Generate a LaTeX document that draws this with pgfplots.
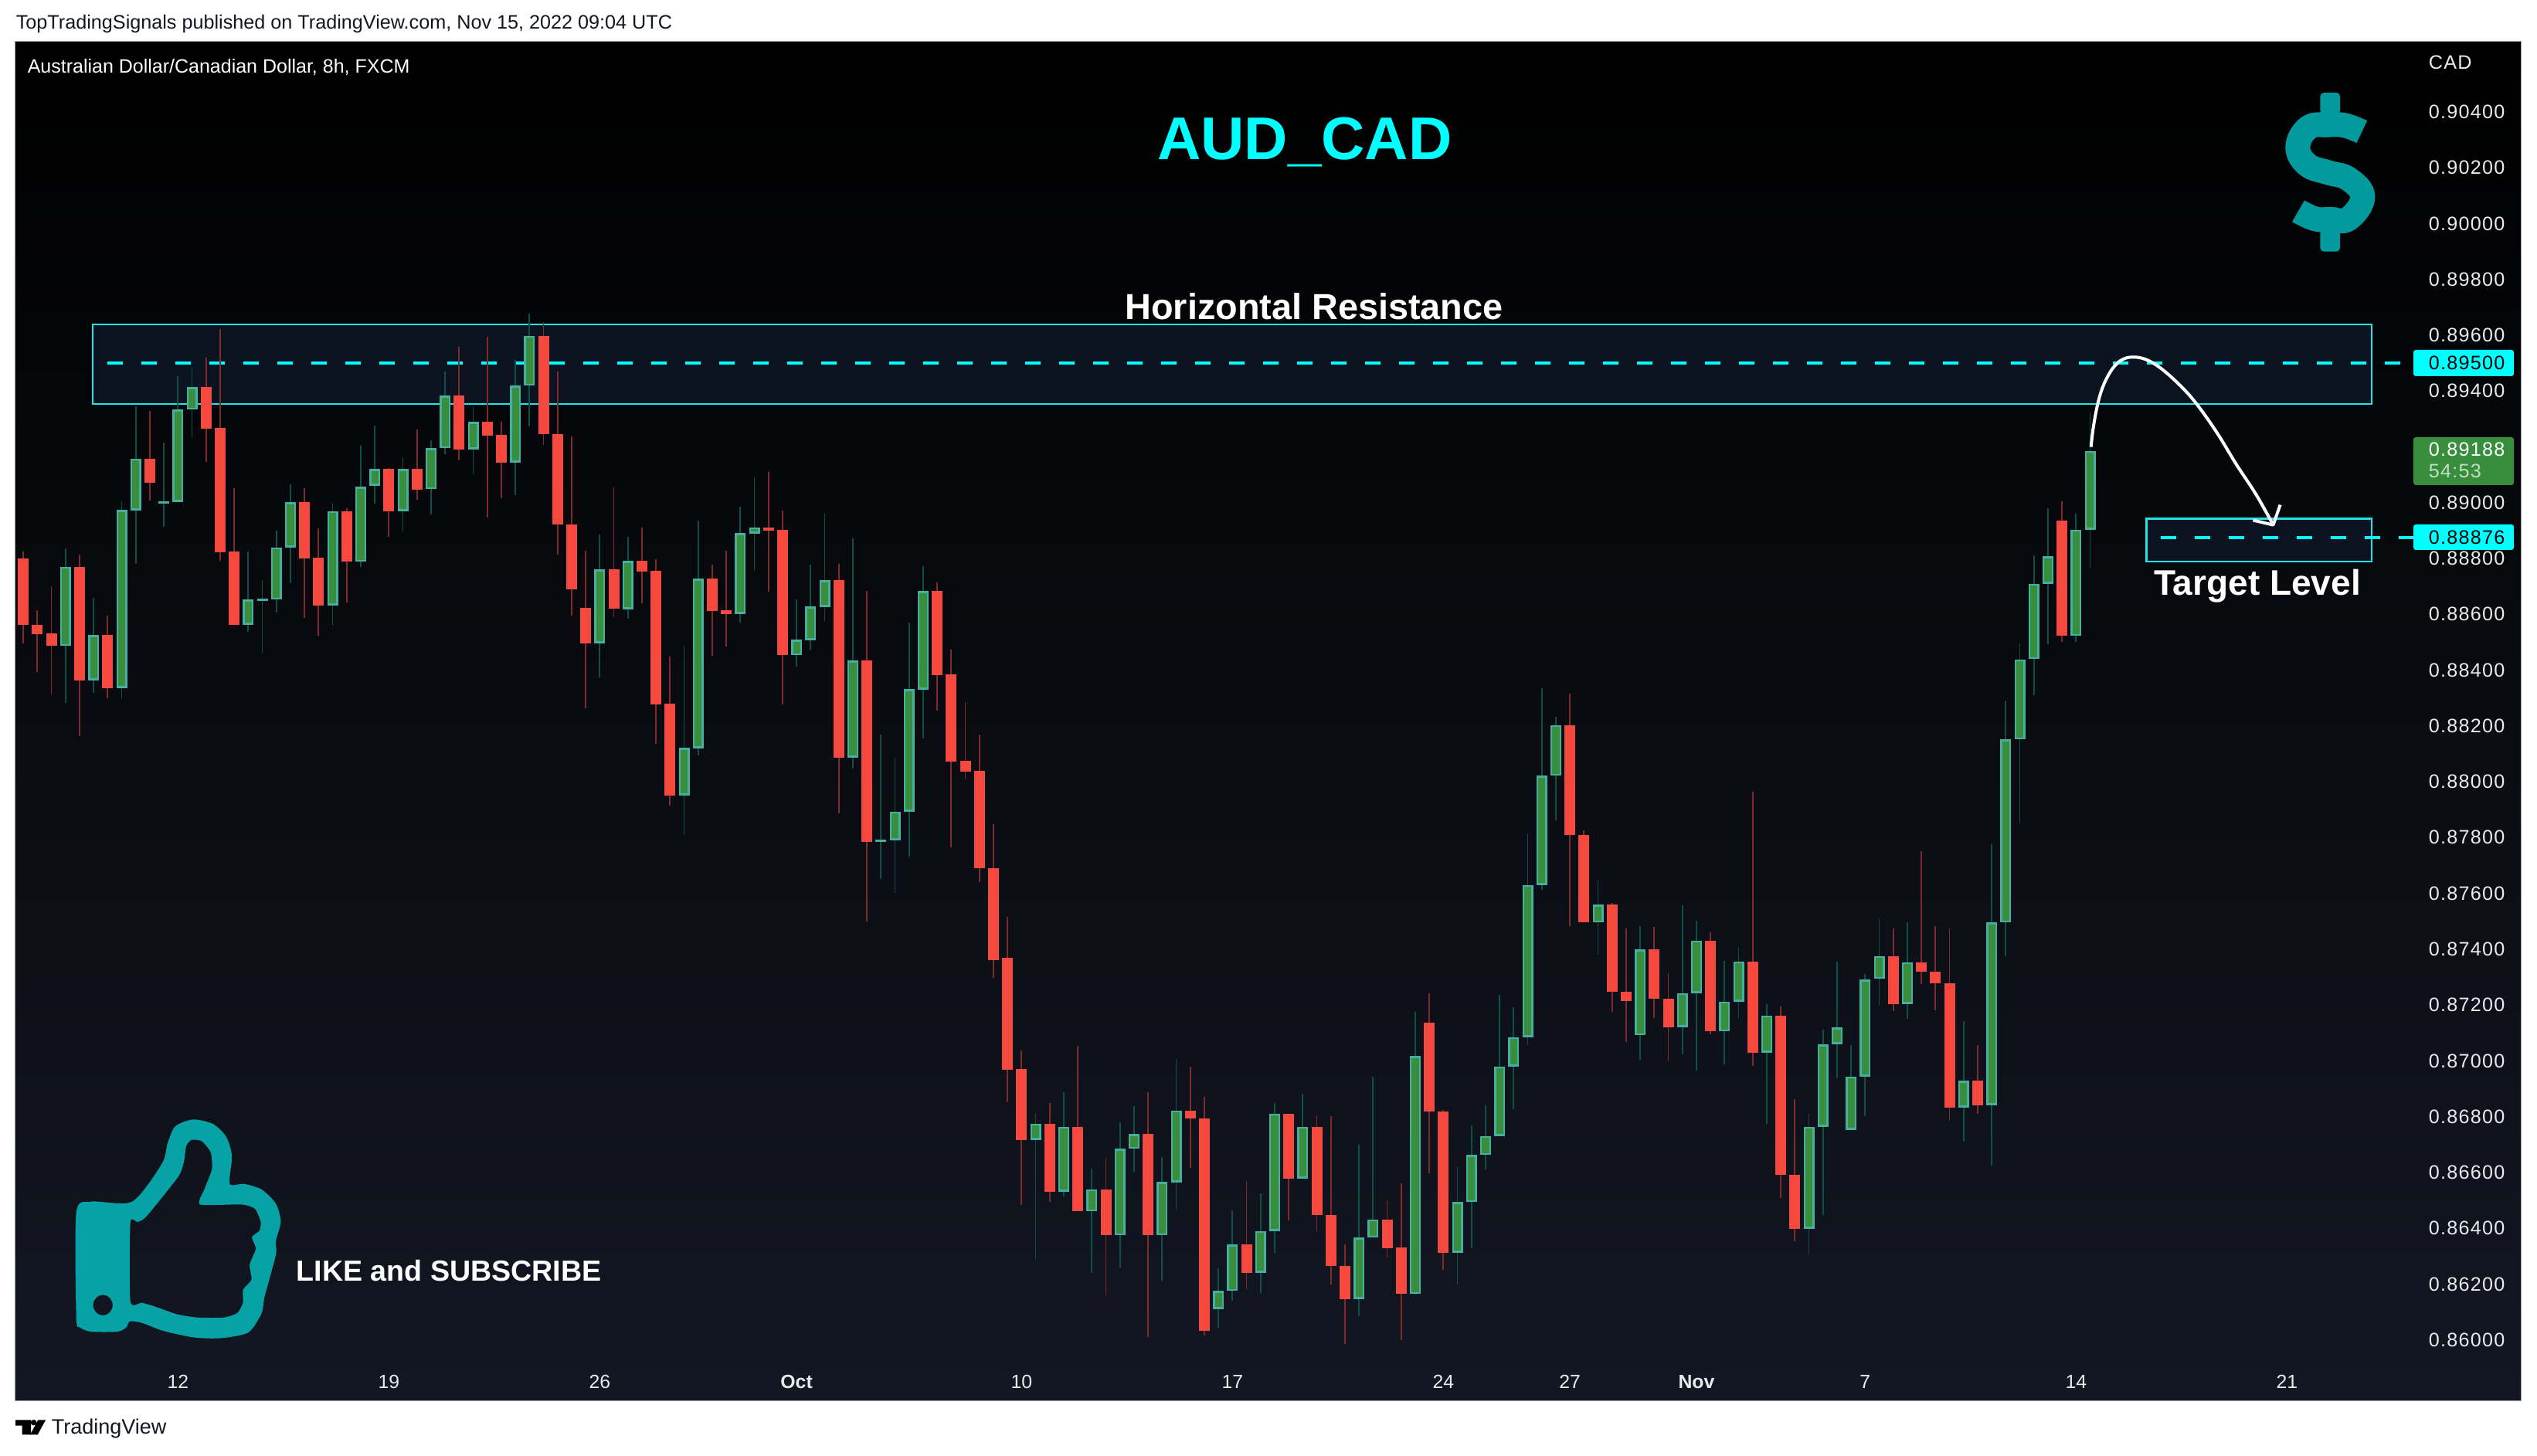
\documentclass[border=0pt]{standalone}
\usepackage{pgfplots}
\usepackage{pgfplotstable}
\usepackage{fontspec}
\setmainfont{Liberation Sans}
\pgfplotsset{compat=1.18}

\definecolor{upfill}{HTML}{388E3C}
\definecolor{upedge}{HTML}{45AFA2}
\definecolor{upwick}{HTML}{0F4F49}
\definecolor{downfill}{HTML}{F7483D}
\definecolor{downedge}{HTML}{F14A42}
\definecolor{downwick}{HTML}{7F2B2D}
\definecolor{panelbot}{HTML}{131722}
\definecolor{zonefill}{HTML}{0C1320}
\definecolor{zoneline}{HTML}{22E6E6}
\definecolor{tagcyan}{HTML}{00FFFF}
\definecolor{ticktext}{HTML}{E8EAEE}
\definecolor{thumb}{HTML}{07A2A6}
\definecolor{dollar}{HTML}{029A9C}
\definecolor{frameline}{HTML}{9AA0AC}
\definecolor{headtext}{HTML}{131722}

% columns: bar number, wick high, body top, body bottom, wick low
\pgfplotstableread{
i high top bottom low
3 0.88836 0.88770 0.88487 0.88283
5 0.88659 0.88526 0.88363 0.88318
7 0.89005 0.88974 0.88335 0.88299
8 0.89346 0.89158 0.88972 0.88781
10 0.89215 0.89005 0.88996 0.88913
11 0.89453 0.89334 0.89003 0.89001
12 0.89487 0.89414 0.89333 0.89235
16 0.88825 0.88653 0.88563 0.88537
17 0.88723 0.88656 0.88649 0.88462
18 0.88900 0.88840 0.88652 0.88607
19 0.89065 0.89001 0.88840 0.88712
22 0.89000 0.88970 0.88632 0.88560
24 0.89205 0.89057 0.88788 0.88770
25 0.89277 0.89120 0.89061 0.88997
27 0.89163 0.89120 0.88970 0.88897
29 0.89223 0.89195 0.89048 0.88958
30 0.89470 0.89383 0.89195 0.89174
32 0.89346 0.89289 0.89191 0.89102
35 0.89511 0.89419 0.89144 0.89027
36 0.89677 0.89598 0.89419 0.89273
41 0.88886 0.88760 0.88496 0.88374
43 0.88877 0.88791 0.88618 0.88585
47 0.88488 0.88121 0.87951 0.87809
48 0.88935 0.88728 0.88120 0.88094
51 0.88986 0.88891 0.88602 0.88570
52 0.89091 0.88912 0.88890 0.88756
55 0.88653 0.88509 0.88454 0.88412
56 0.88778 0.88628 0.88507 0.88470
57 0.88961 0.88722 0.88627 0.88575
59 0.88872 0.88434 0.88087 0.88047
61 0.88169 0.87792 0.87783 0.87652
62 0.88086 0.87893 0.87791 0.87601
63 0.88570 0.88331 0.87893 0.87731
64 0.88772 0.88683 0.88330 0.88155
72 0.86812 0.86775 0.86717 0.86290
74 0.86887 0.86764 0.86531 0.86513
76 0.86614 0.86540 0.86460 0.86240
78 0.86779 0.86684 0.86374 0.86257
79 0.86838 0.86737 0.86684 0.86602
81 0.86655 0.86566 0.86374 0.86210
82 0.87007 0.86822 0.86564 0.86469
85 0.86257 0.86175 0.86111 0.86043
86 0.86464 0.86341 0.86175 0.86140
88 0.86525 0.86390 0.86241 0.86169
89 0.86849 0.86811 0.86390 0.86311
91 0.86882 0.86764 0.86578 0.86578
95 0.86699 0.86366 0.86147 0.86085
96 0.86943 0.86432 0.86366 0.86366
99 0.87176 0.87017 0.86164 0.86162
102 0.86619 0.86493 0.86313 0.86198
103 0.86769 0.86662 0.86493 0.86328
104 0.86840 0.86731 0.86662 0.86611
105 0.87237 0.86980 0.86731 0.86729
106 0.87191 0.87085 0.86980 0.86826
107 0.87814 0.87630 0.87085 0.87056
108 0.88335 0.88022 0.87630 0.87612
109 0.88232 0.88203 0.88022 0.87862
112 0.87646 0.87560 0.87495 0.87380
115 0.87482 0.87399 0.87092 0.87005
118 0.87557 0.87242 0.87121 0.87023
119 0.87501 0.87431 0.87242 0.86964
121 0.87358 0.87212 0.87105 0.86986
122 0.87407 0.87356 0.87212 0.87154
124 0.87202 0.87162 0.87029 0.86773
127 0.86810 0.86764 0.86398 0.86306
128 0.87113 0.87059 0.86764 0.86446
129 0.87355 0.87120 0.87059 0.86938
130 0.87056 0.86943 0.86752 0.86752
131 0.87310 0.87291 0.86943 0.86803
132 0.87507 0.87375 0.87293 0.87197
134 0.87496 0.87353 0.87204 0.87150
138 0.87142 0.86929 0.86833 0.86710
140 0.87777 0.87495 0.86841 0.86624
141 0.88291 0.88151 0.87495 0.87374
142 0.88495 0.88438 0.88152 0.87851
143 0.88811 0.88710 0.88440 0.88309
144 0.88979 0.88807 0.88710 0.88494
146 0.88961 0.88903 0.88522 0.88501
147 0.89324 0.89186 0.88903 0.88765
}\upbars

\pgfplotstableread{
i high top bottom low
0 0.88825 0.88800 0.88561 0.88495
1 0.88614 0.88562 0.88529 0.88393
2 0.88700 0.88531 0.88487 0.88312
4 0.88814 0.88770 0.88363 0.88163
6 0.88595 0.88526 0.88335 0.88299
9 0.89329 0.89158 0.89071 0.89007
13 0.89520 0.89414 0.89265 0.89147
14 0.89623 0.89267 0.88822 0.88792
15 0.89052 0.88824 0.88562 0.88562
20 0.89052 0.89001 0.88800 0.88587
21 0.88908 0.88802 0.88632 0.88524
23 0.88980 0.88970 0.88788 0.88642
26 0.89124 0.89120 0.88969 0.88877
28 0.89263 0.89120 0.89047 0.89011
31 0.89558 0.89383 0.89191 0.89152
33 0.89594 0.89289 0.89240 0.88947
34 0.89290 0.89242 0.89144 0.89016
37 0.89646 0.89598 0.89247 0.89206
38 0.89470 0.89247 0.88923 0.88814
39 0.89237 0.88923 0.88690 0.88595
40 0.88828 0.88624 0.88496 0.88263
42 0.89055 0.88760 0.88619 0.88590
44 0.88911 0.88791 0.88754 0.88640
45 0.88798 0.88755 0.88278 0.88136
46 0.88448 0.88279 0.87951 0.87914
49 0.88778 0.88728 0.88613 0.88452
50 0.88828 0.88614 0.88602 0.88485
53 0.89111 0.88912 0.88899 0.88682
54 0.88972 0.88903 0.88454 0.88278
58 0.88781 0.88722 0.88087 0.87887
60 0.88684 0.88434 0.87783 0.87499
65 0.88714 0.88683 0.88383 0.88255
66 0.88474 0.88384 0.88073 0.87764
67 0.88285 0.88074 0.88037 0.88008
68 0.88169 0.88038 0.87689 0.87641
69 0.87848 0.87689 0.87360 0.87298
70 0.87516 0.87370 0.86968 0.86852
71 0.87037 0.86970 0.86717 0.86484
73 0.86849 0.86775 0.86531 0.86494
75 0.87054 0.86764 0.86460 0.86460
77 0.86652 0.86540 0.86374 0.86160
80 0.86887 0.86737 0.86374 0.86010
83 0.86979 0.86822 0.86792 0.86615
84 0.86871 0.86792 0.86033 0.86016
87 0.86569 0.86341 0.86241 0.86182
90 0.86811 0.86811 0.86578 0.86428
92 0.86804 0.86764 0.86446 0.86389
93 0.86802 0.86446 0.86266 0.86198
94 0.86342 0.86266 0.86147 0.85985
97 0.86499 0.86432 0.86329 0.86295
98 0.86560 0.86330 0.86164 0.85999
100 0.87242 0.87137 0.86817 0.86597
101 0.86824 0.86817 0.86313 0.86250
110 0.88315 0.88203 0.87808 0.87482
111 0.87825 0.87808 0.87495 0.87495
113 0.87566 0.87560 0.87248 0.87175
114 0.87474 0.87248 0.87213 0.87067
116 0.87479 0.87399 0.87223 0.87154
117 0.87315 0.87223 0.87121 0.87000
120 0.87460 0.87431 0.87105 0.87094
123 0.87963 0.87356 0.87029 0.86981
125 0.87194 0.87162 0.86592 0.86508
126 0.86862 0.86592 0.86398 0.86352
133 0.87475 0.87375 0.87204 0.87177
135 0.87750 0.87353 0.87318 0.87274
136 0.87482 0.87320 0.87277 0.87180
137 0.87475 0.87278 0.86833 0.86784
139 0.87056 0.86929 0.86841 0.86811
145 0.89005 0.88936 0.88522 0.88501
}\downbars

% #1 table, #2 wick, #3 body edge, #4 body fill
\newcommand\candles[4]{%
  \addplot[draw=none, mark=none, forget plot,
    error bars/.cd, y dir=minus, y explicit, error mark=none,
    error bar style={draw=#2, line width=.45pt}]
    table[x=i, y=high, y error minus expr=\thisrow{high}-\thisrow{low}] {#1};
  \addplot[draw=none, mark=none, forget plot,
    error bars/.cd, y dir=minus, y explicit, error mark=none,
    error bar style={draw=#3, line width=3.5pt}]
    table[x=i, y=top, y error minus expr=\thisrow{top}-\thisrow{bottom}] {#1};
  \addplot[draw=none, mark=none, forget plot,
    error bars/.cd, y dir=minus, y explicit, error mark=none,
    error bar style={draw=#4, line width=2.3pt}]
    table[x=i, y expr=\thisrow{top}-0.00007,
      y error minus expr={max(\thisrow{top}-\thisrow{bottom}-0.00014,0)}] {#1};
}
\newcommand\fs[1]{\fontsize{#1}{#1}\selectfont}

\begin{document}
\begin{tikzpicture}
\path[use as bounding box, fill=white] (-5pt,-17.75pt) rectangle (816pt,453.25pt);
\begin{axis}[
  scale only axis,
  width=810.75pt, height=439.75pt,
  xmin=-0.555, xmax=177.63,
  ymin=0.85783, ymax=0.906519,
  axis background/.style={top color=black, bottom color=panelbot},
  axis line style={frameline, line width=.25pt},
  major tick length=0pt,
  tick style={draw=none},
  xtick={11,26,41,55,71,86,101,110,119,131,146,161},
  xticklabels={12,19,26,\textbf{Oct},10,17,24,27,\textbf{Nov},7,14,21},
  x tick label style={anchor=center, inner sep=0pt, yshift=6pt, text=ticktext, font=\fs{6.2}},
  ytick={0.86,0.862,0.864,0.866,0.868,0.87,0.872,0.874,0.876,0.878,0.88,0.882,0.884,0.886,0.888,0.89,0.894,0.896,0.898,0.9,0.902,0.904},
  yticklabel pos=right,
  y tick label style={anchor=west, inner sep=0pt, xshift=-30pt, text=ticktext,
    font=\addfontfeatures{LetterSpace=5}\fs{6.3},
    /pgf/number format/.cd, fixed, fixed zerofill, precision=5, assume math mode=true},
  clip=true,
]
% zones and levels
\addplot[fill=zonefill, draw=zoneline, line width=.6pt, forget plot]
  coordinates {(4.94,0.89639)(167.03,0.89639)(167.03,0.89354)(4.94,0.89354)} -- cycle;
\addplot[fill=zonefill, draw=zoneline, line width=.6pt, forget plot]
  coordinates {(151.0,0.889428)(167.03,0.889428)(167.03,0.887889)(151.0,0.887889)} -- cycle;
\addplot[tagcyan, line width=1pt, dash pattern=on 5.1pt off 5.9pt, forget plot]
  coordinates {(5.98,0.895)(169.05,0.895)};
\addplot[tagcyan, line width=1pt, dash pattern=on 5.1pt off 5.9pt, forget plot]
  coordinates {(152.0,0.88876)(170.0,0.88876)};
% candles
\candles{\upbars}{upwick}{upedge}{upfill}
\candles{\downbars}{downwick}{downedge}{downfill}
% hand drawn arrow
\addplot[white, line width=1pt, smooth, tension=.6, forget plot] coordinates {
  (147.06,0.891998)(147.25,0.892775)(147.58,0.893622)(147.99,0.894258)
  (148.62,0.894823)(149.31,0.895133)(150.13,0.895218)(151.09,0.895105)
  (152.19,0.894752)(153.57,0.894116)(154.66,0.893481)(156.04,0.892492)
  (157.41,0.891362)(158.79,0.890303)(160.02,0.889202)};
\addplot[white, line width=1pt, line join=round, forget plot] coordinates {
  (158.59,0.889371)(160.02,0.889202)(160.52,0.889922)};
\end{axis}

% everything below is placed in page pixels of the reference
\begin{scope}[shift={(-5pt,453.25pt)}, x=.25pt, y=-.25pt]
  \node[anchor=west, inner sep=0pt, text=headtext] at (20,31) {\fs{6.3}TopTradingSignals published on TradingView.com, Nov 15, 2022 09:04 UTC};
  \node[anchor=west, inner sep=0pt, white] at (35,87) {\fs{6.25}Australian Dollar/Canadian Dollar, 8h, FXCM};
  \node[anchor=west, inner sep=0pt, ticktext] at (3143,81) {\fs{6.3}\addfontfeatures{LetterSpace=5}CAD};
  \node[inner sep=0pt, tagcyan] at (1689,184) {\fs{19.5}\textbf{AUD\_CAD}};
  \node[inner sep=0pt, white] at (1701,397) {\fs{11.7}\textbf{Horizontal Resistance}};
  \node[inner sep=0pt, white] at (2922,759) {\fs{11.5}\textbf{Target Level}};
  \node[anchor=west, inner sep=0pt, white] at (383,1645) {\fs{9.4}\textbf{LIKE and SUBSCRIBE}};
  \node[anchor=west, inner sep=0pt, headtext] at (66,1850) {\fs{6.75}TradingView};
  % price tags
  \fill[tagcyan, rounded corners=.8pt] (3124,453) rectangle (3254,487);
  \fill[tagcyan, rounded corners=.8pt] (3124,679) rectangle (3254,712);
  \fill[upfill, rounded corners=.8pt] (3124,566) rectangle (3254,628);
  \node[anchor=west, inner sep=0pt, black] at (3143,470) {\fs{6.3}\addfontfeatures{LetterSpace=5}0.89500};
  \node[anchor=west, inner sep=0pt, black] at (3143,696) {\fs{6.3}\addfontfeatures{LetterSpace=5}0.88876};
  \node[anchor=west, inner sep=0pt, white] at (3143,582) {\fs{6.3}\addfontfeatures{LetterSpace=5}0.89188};
  \node[anchor=west, inner sep=0pt, white!70!upfill] at (3143,610) {\fs{6.3}\addfontfeatures{LetterSpace=5}54:53};
\end{scope}

% thumb and TradingView logo, traced in zoom coordinates
\begin{scope}[shift={(-5pt,103.25pt)}, x=.14351pt, y=-.08333pt]
  \fill[thumb, even odd rule]
    plot[smooth cycle, tension=.45] coordinates {(172,510)(205,467)(298,467)(365,320)(378,240)(395,175)(435,148)(480,165)(510,215)(523,290)(518,398)(550,398)(590,420)(622,475)(633,545)(622,620)(623,665)(612,740)(596,840)(590,900)(560,975)(500,997)(440,995)(370,970)(320,938)(293,932)(285,955)(265,972)(205,972)(180,955)(172,915)}
    plot[smooth cycle, tension=.35] coordinates {(294,548)(310,546)(330,525)(402,370)(415,310)(420,250)(432,227)(455,232)(475,275)(478,340)(462,415)(451,478)(545,478)(575,495)(588,545)(585,580)(568,605)(577,650)(563,712)(567,770)(548,810)(548,860)(535,900)(505,917)(445,917)(400,905)(350,875)(320,860)(294,855)}
    (232,869) ellipse [x radius=22, y radius=40];
  \fill[black] (35,1315) -- (70,1315) -- (70,1372) -- (50,1372) -- (50,1337) -- (35,1337) -- cycle;
  \fill[black] (76,1325) ellipse [x radius=7, y radius=11];
  \fill[black] (103,1315) -- (85,1372) -- (68,1372) -- (86,1315) -- cycle;
\end{scope}

% dollar sign
\begin{scope}[shift={(695pt,453.25pt)}, x=.08333pt, y=-.08333pt]
  \draw[dollar, line width=8pt] plot[smooth, tension=.7] coordinates {(772,512)(705,487)(640,485)(565,495)(523,570)(560,640)(640,670)(720,695)(775,765)(720,850)(650,852)(590,850)(525,820)};
  \fill[dollar, rounded corners=1.2pt] (610,360) rectangle (687,445);
  \fill[dollar, rounded corners=1.2pt] (610,890) rectangle (687,977);
\end{scope}
\end{tikzpicture}
\end{document}
